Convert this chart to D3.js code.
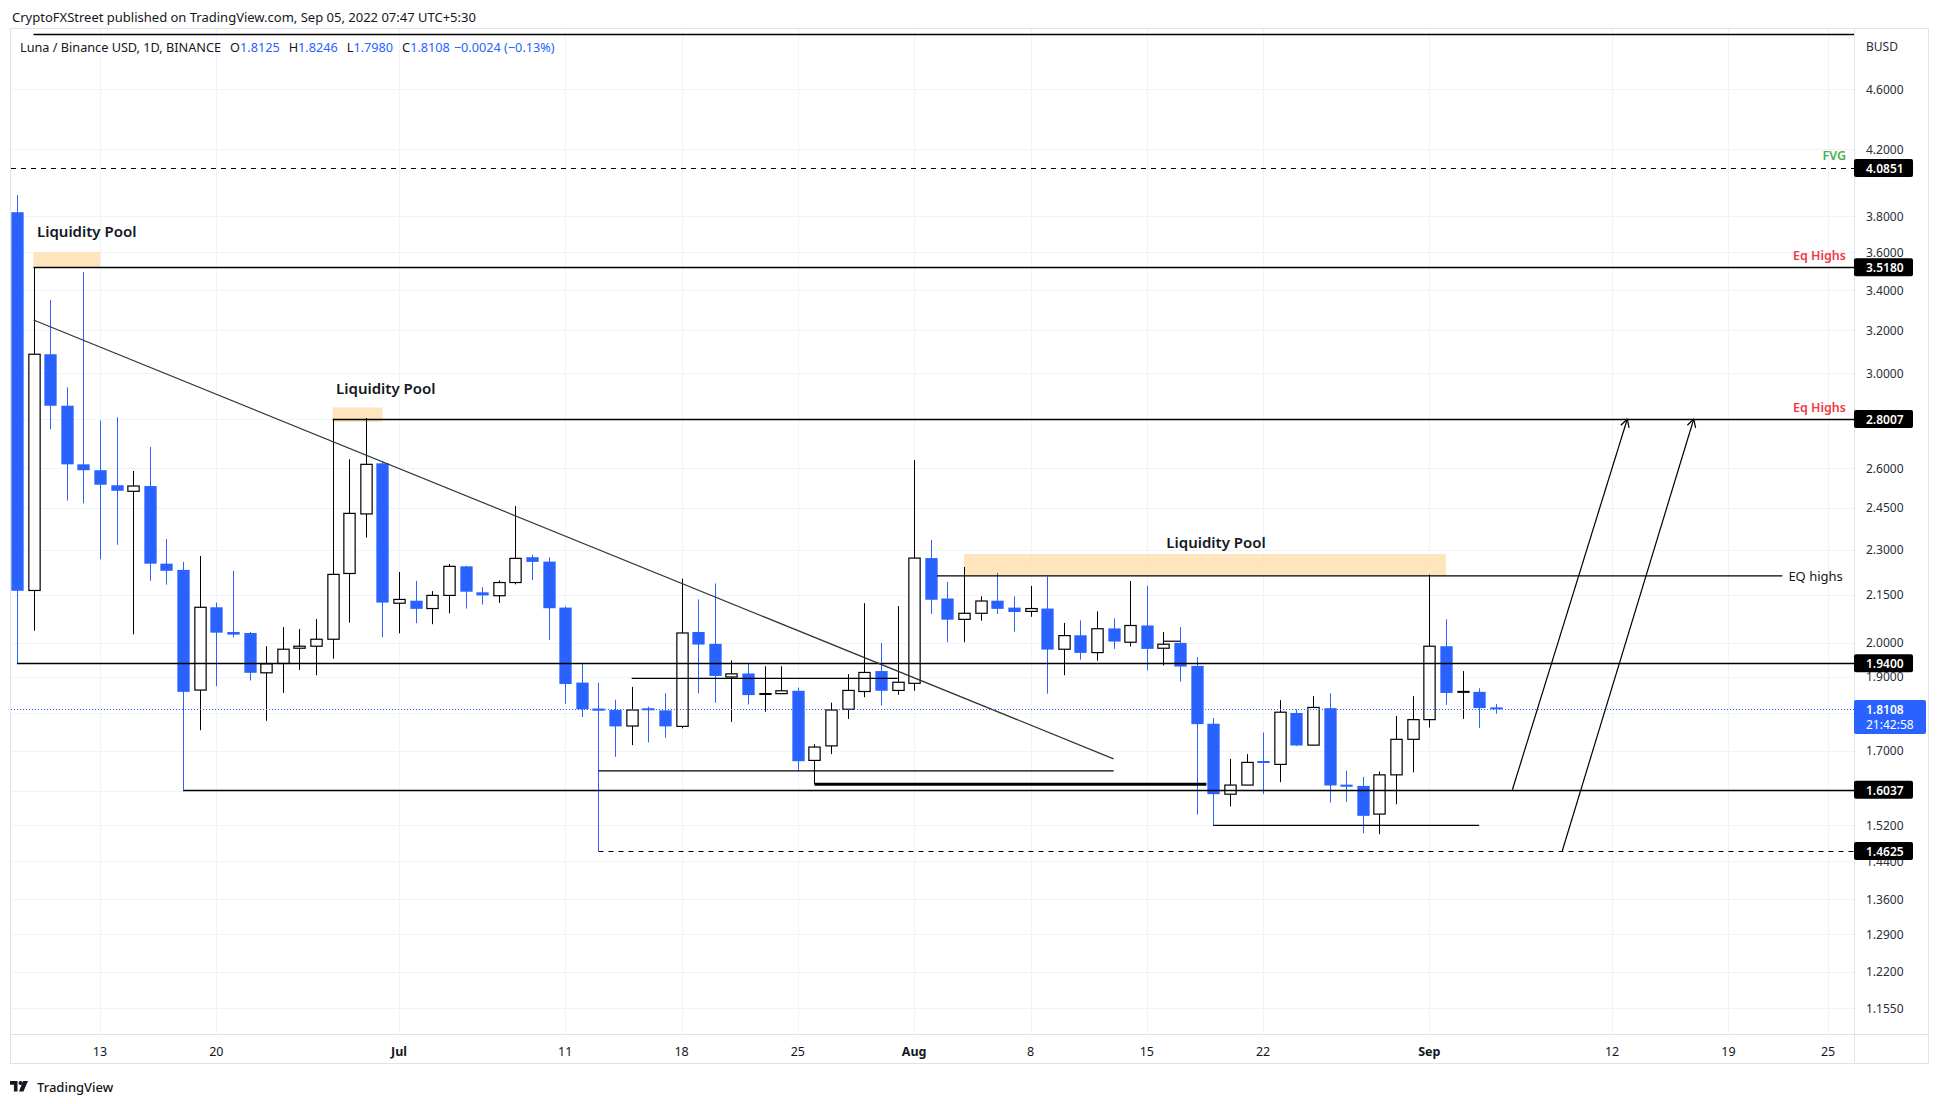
<!DOCTYPE html>
<html>
<head>
<meta charset="utf-8">
<script src="https://cdn.jsdelivr.net/npm/d3@7"></script>
<style>
  body { margin: 0; background: #fff; }
  svg { display: block; font-family: "Noto Sans", "Open Sans", sans-serif; }
</style>
</head>
<body>
<div id="chart"></div>
<script>
// LUNA/BUSD daily candles, one per day from firstDay
const firstDay = '2022-06-08';
const opens = [
  3.822, 2.164, 3.087, 2.857, 2.616, 2.593, 2.535, 2.512, 2.532, 2.253, 2.232, 1.863, 2.110, 2.033, 2.030, 1.912, 1.939, 1.984, 1.990, 2.011, 2.220, 2.428, 2.620,
  2.123, 2.131, 2.106, 2.148, 2.244, 2.158, 2.147, 2.190, 2.275, 2.260, 2.109, 1.884, 1.812, 1.808, 1.765, 1.810, 1.807, 1.764, 2.033, 1.997, 1.900, 1.910, 1.850, 1.853, 1.861, 1.676, 1.713, 1.810, 1.859, 1.917, 1.862,
  1.882, 2.272, 2.138, 2.072, 2.091, 2.131, 2.109, 2.097, 2.106, 1.981, 2.023, 1.971, 2.044, 2.002, 2.053, 1.984, 2.000, 1.932, 1.771, 1.593, 1.615, 1.672, 1.666, 1.800, 1.715, 1.813, 1.616, 1.613, 1.546, 1.640, 1.730,
  1.782, 1.990, 1.856, 1.858, 1.8125
];
const highs = [
  3.922, 3.518, 3.349, 2.937, 3.493, 2.794, 2.808, 2.590, 2.685, 2.338, 2.259, 2.279, 2.125, 2.229, 2.033, 1.990, 2.048, 2.042, 2.073, 2.801, 2.636, 2.805, 2.625,
  2.225, 2.195, 2.162, 2.252, 2.246, 2.175, 2.197, 2.457, 2.284, 2.275, 2.113, 1.937, 1.884, 1.836, 1.872, 1.817, 1.854, 2.203, 2.135, 2.187, 1.948, 1.938, 1.931, 1.931, 1.870, 1.717, 1.828, 1.908, 2.123, 2.000, 2.114,
  2.633, 2.335, 2.192, 2.242, 2.145, 2.222, 2.145, 2.179, 2.210, 2.061, 2.069, 2.097, 2.075, 2.195, 2.179, 2.033, 2.048, 1.958, 1.786, 1.680, 1.692, 1.748, 1.835, 1.810, 1.846, 1.854, 1.650, 1.635, 1.648, 1.792, 1.846,
  2.216, 2.072, 1.917, 1.868, 1.8246
];
const lows = [
  1.939, 2.037, 2.758, 2.477, 2.467, 2.268, 2.318, 2.026, 2.196, 2.183, 1.604, 1.754, 1.874, 2.017, 1.890, 1.779, 1.855, 1.920, 1.905, 1.953, 2.062, 2.343, 2.017,
  2.029, 2.060, 2.057, 2.091, 2.106, 2.119, 2.124, 2.184, 2.198, 2.009, 1.825, 1.789, 1.4625, 1.685, 1.715, 1.722, 1.734, 1.759, 1.854, 1.828, 1.776, 1.823, 1.803, 1.852, 1.650, 1.617, 1.692, 1.784, 1.843, 1.820, 1.850,
  1.861, 2.089, 2.002, 2.002, 2.068, 2.089, 2.034, 2.080, 1.853, 1.905, 1.950, 1.947, 1.982, 1.989, 1.919, 1.933, 1.887, 1.545, 1.520, 1.564, 1.615, 1.593, 1.622, 1.713, 1.714, 1.573, 1.575, 1.502, 1.500, 1.569, 1.646,
  1.761, 1.822, 1.784, 1.760, 1.7980
];
const closes = [
  2.163, 3.087, 2.857, 2.616, 2.593, 2.537, 2.514, 2.532, 2.253, 2.229, 1.858, 2.110, 2.031, 2.025, 1.912, 1.938, 1.981, 1.990, 2.011, 2.217, 2.430, 2.616, 2.125,
  2.135, 2.105, 2.148, 2.244, 2.160, 2.148, 2.190, 2.271, 2.259, 2.107, 1.880, 1.810, 1.806, 1.764, 1.808, 1.805, 1.764, 2.030, 1.995, 1.903, 1.909, 1.849, 1.852, 1.861, 1.674, 1.710, 1.808, 1.862, 1.913, 1.861, 1.885,
  2.272, 2.134, 2.071, 2.091, 2.130, 2.105, 2.095, 2.106, 1.980, 2.022, 1.970, 2.043, 2.004, 2.053, 1.982, 1.996, 1.930, 1.770, 1.593, 1.615, 1.671, 1.668, 1.802, 1.714, 1.815, 1.614, 1.611, 1.542, 1.640, 1.730, 1.782,
  1.990, 1.855, 1.858, 1.8132, 1.8108
];
const countdown = '21:42:58';

// axes: gridlines at every tick, labels only where the reference shows them
const priceTicks = [4.6, 4.2, 3.8, 3.6, 3.4, 3.2, 3.0, 2.8, 2.6, 2.45, 2.3, 2.15, 2.0, 1.9, 1.8, 1.7, 1.6, 1.52, 1.44, 1.36, 1.29, 1.22, 1.155];
const hiddenTickLabels = [2.8, 1.8, 1.6];
const dateTicks = ['2022-06-13', '2022-06-20', '2022-07-01', '2022-07-11', '2022-07-18', '2022-07-25', '2022-08-01',
  '2022-08-08', '2022-08-15', '2022-08-22', '2022-09-01', '2022-09-12', '2022-09-19', '2022-09-25'];
const dateTickLabels = ['13', '20', 'Jul', '11', '18', '25', 'Aug', '8', '15', '22', 'Sep', '12', '19', '25'];
const monthLabels = ['Jul', 'Aug', 'Sep'];

// drawings
const levelPrices = [3.518, 2.8007, 1.94, 1.6037];
const levelStarts = ['2022-06-09', '2022-06-27', '2022-06-08', '2022-06-18'];
const dashedPrices = [4.0851, 1.4625];
const dashedStarts = [null, '2022-07-13'];
const topLine = ['2022-06-09', 5.0];
const trendLine = [['2022-06-09', 3.25], ['2022-08-13', 1.68]];
const shortLines = [
  [['2022-08-02T09:00Z', 2.212], ['2022-09-22T06:00Z', 2.212]],
  [['2022-07-15', 1.896], ['2022-07-31', 1.896]],
  [['2022-07-13', 1.650], ['2022-08-13', 1.650]],
  [['2022-08-19', 1.520], ['2022-09-04', 1.520]],
  [['2022-08-16', 2.005], ['2022-08-17', 2.005]]
];
const boldLine = [['2022-07-26', 1.617], ['2022-08-18T14:00Z', 1.617]];
const arrows = [
  [['2022-09-06', 1.6037], ['2022-09-12T22:00Z', 2.8007]],
  [['2022-09-09', 1.4625], ['2022-09-16T22:00Z', 2.8007]]
];
const poolBoxes = [
  [['2022-06-09', 3.600], ['2022-06-13', 3.518]],
  [['2022-06-27', 2.850], ['2022-06-30', 2.788]],
  [['2022-08-04', 2.286], ['2022-09-02', 2.212]]
];
const poolLabels = [['2022-06-09T05:00Z', 3.715, 'start'], ['2022-06-27T05:00Z', 2.934, 'start'], ['2022-08-19T04:00Z', 2.328, 'middle']];
const redLabels = [3.518, 2.8007];
const fvgPrice = 4.0851;
const eqHighsPrice = 2.212;

const W = 1941, H = 1104;
const pane = { l: 11, r: 1854, t: 29, b: 1034 };
const axisRight = 1929, axisBottom = 1064;
const blue = '#2962ff';
const ink = '#131722';

const parse = d3.isoParse;
const x = d3.scaleUtc()
  .domain([parse('2022-06-13'), parse('2022-09-01')])
  .range([100, 1429.3]);
const y = d3.scaleLog().domain([1.155, 4.6]).range([1008, 89]);
const pt = ([d, p]) => [x(parse(d)), y(p)];

const day0 = parse(firstDay);
const candles = opens.map((o, i) => ({
  date: d3.utcDay.offset(day0, i), o, h: highs[i], l: lows[i], c: closes[i]
}));
const dayW = x(d3.utcDay.offset(day0, 1)) - x(day0);
const bodyW = dayW * 0.74;

const svg = d3.select('#chart').append('svg')
  .attr('width', W).attr('height', H)
  .attr('viewBox', `0 0 ${W} ${H}`);
svg.append('rect').attr('width', W).attr('height', H).attr('fill', '#fff');

svg.append('defs').append('clipPath').attr('id', 'pane')
  .append('rect').attr('x', pane.l).attr('y', pane.t)
  .attr('width', pane.r - pane.l).attr('height', pane.b - pane.t);

// grid
const grid = svg.append('g').attr('stroke', '#f0f3fa').attr('stroke-width', 1);
grid.selectAll('line.h').data(priceTicks).join('line')
  .attr('x1', pane.l).attr('x2', pane.r)
  .attr('y1', d => Math.round(y(d)) + 0.5).attr('y2', d => Math.round(y(d)) + 0.5);
grid.selectAll('line.v').data(dateTicks).join('line')
  .attr('y1', pane.t).attr('y2', pane.b)
  .attr('x1', d => Math.round(x(parse(d))) + 0.5).attr('x2', d => Math.round(x(parse(d))) + 0.5);

// frame
const frame = svg.append('g').attr('fill', 'none').attr('stroke', '#e0e3eb');
frame.append('rect').attr('x', pane.l - 0.5).attr('y', pane.t - 0.5)
  .attr('width', axisRight - pane.l).attr('height', axisBottom - pane.t);
frame.append('line').attr('x1', pane.r + 0.5).attr('x2', pane.r + 0.5).attr('y1', pane.t).attr('y2', axisBottom);
frame.append('line').attr('x1', pane.l).attr('x2', axisRight).attr('y1', pane.b + 0.5).attr('y2', pane.b + 0.5);

const plot = svg.append('g').attr('clip-path', 'url(#pane)');

// liquidity pool boxes
plot.append('g').selectAll('rect').data(poolBoxes).join('rect')
  .attr('x', d => pt(d[0])[0]).attr('y', d => pt(d[0])[1])
  .attr('width', d => pt(d[1])[0] - pt(d[0])[0])
  .attr('height', d => pt(d[1])[1] - pt(d[0])[1])
  .attr('fill', '#ffe0b2').attr('opacity', 0.85);

// candles
const cg = plot.append('g');
candles.forEach(d => {
  const bull = d.c >= d.o;
  const col = bull ? '#000' : blue;
  const cx = Math.round(x(d.date)) + 0.5;
  cg.append('line').attr('x1', cx).attr('x2', cx)
    .attr('y1', y(d.h)).attr('y2', y(d.l)).attr('stroke', col);
  const top = y(Math.max(d.o, d.c)), bot = y(Math.min(d.o, d.c));
  const hgt = bot - top;
  if (bull && hgt > 2) {
    cg.append('rect').attr('x', cx - bodyW / 2 + 0.5).attr('width', bodyW - 1)
      .attr('y', top).attr('height', hgt)
      .attr('fill', '#fff').attr('stroke', '#000').attr('stroke-width', 1.2);
  } else {
    cg.append('rect').attr('x', cx - bodyW / 2).attr('width', bodyW)
      .attr('y', top - (hgt < 2 ? 1 : 0)).attr('height', Math.max(hgt, 2))
      .attr('fill', col);
  }
});

// drawings
const dg = plot.append('g').attr('stroke', '#000').attr('fill', 'none');
levelPrices.forEach((p, i) => {
  const yy = Math.round(y(p)) + 0.5;
  dg.append('line').attr('x1', x(parse(levelStarts[i]))).attr('x2', pane.r)
    .attr('y1', yy).attr('y2', yy).attr('stroke-width', 1.3);
});
dashedPrices.forEach((p, i) => {
  const yy = Math.round(y(p)) + 0.5;
  dg.append('line').attr('x1', dashedStarts[i] ? x(parse(dashedStarts[i])) : pane.l).attr('x2', pane.r)
    .attr('y1', yy).attr('y2', yy).attr('stroke-dasharray', '5,5').attr('stroke-width', 1.2);
});
{
  const yy = Math.round(y(topLine[1])) + 0.5;
  dg.append('line').attr('x1', x(parse(topLine[0]))).attr('x2', pane.r).attr('y1', yy).attr('y2', yy).attr('stroke-width', 1.3);
}
const line2 = (a, b) => dg.append('line')
  .attr('x1', pt(a)[0]).attr('y1', pt(a)[1]).attr('x2', pt(b)[0]).attr('y2', pt(b)[1]);
line2(trendLine[0], trendLine[1]).attr('stroke', '#333').attr('stroke-width', 1.2);
shortLines.forEach(s => line2(s[0], s[1]).attr('stroke-width', 1.2));
line2(boldLine[0], boldLine[1]).attr('stroke-width', 3.2);
arrows.forEach(([a, b]) => {
  line2(a, b).attr('stroke-width', 1.2);
  const [x1, y1] = pt(a), [x2, y2] = pt(b);
  const ang = Math.atan2(y2 - y1, x2 - x1);
  [-0.5, 0.5].forEach(off => {
    dg.append('line').attr('x1', x2).attr('y1', y2)
      .attr('x2', x2 - 9 * Math.cos(ang + off)).attr('y2', y2 - 9 * Math.sin(ang + off))
      .attr('stroke-width', 1.2);
  });
});

// current price dotted line
const lastC = closes[closes.length - 1];
plot.append('line').attr('x1', pane.l).attr('x2', pane.r)
  .attr('y1', Math.round(y(lastC)) + 0.5).attr('y2', Math.round(y(lastC)) + 0.5)
  .attr('stroke', blue).attr('stroke-dasharray', '1,2');

// annotation text
const tg = svg.append('g');
poolLabels.forEach(([d, p, anchor]) => {
  tg.append('text').attr('x', x(parse(d))).attr('y', y(p))
    .attr('text-anchor', anchor).attr('dominant-baseline', 'central')
    .attr('font-size', 15).attr('font-weight', 600).attr('fill', ink)
    .text('Liquidity Pool');
});
tg.append('text').attr('x', 1846).attr('y', y(fvgPrice) - 12)
  .attr('text-anchor', 'end').attr('dominant-baseline', 'central')
  .attr('font-size', 12.5).attr('font-weight', 600).attr('fill', '#4caf50').text('FVG');
redLabels.forEach(p => {
  tg.append('text').attr('x', 1846).attr('y', y(p) - 11.5)
    .attr('text-anchor', 'end').attr('dominant-baseline', 'central')
    .attr('font-size', 12.5).attr('font-weight', 600).attr('fill', '#f23645').text('Eq Highs');
});
tg.append('text').attr('x', pt(shortLines[0][1])[0] + 6).attr('y', y(eqHighsPrice))
  .attr('dominant-baseline', 'central').attr('font-size', 13).attr('fill', ink).text('EQ highs');

// header + legend
svg.append('text').attr('x', 12).attr('y', 17).attr('dominant-baseline', 'central')
  .attr('font-size', 13).attr('fill', ink)
  .text('CryptoFXStreet published on TradingView.com, Sep 05, 2022 07:47 UTC+5:30');
const last = candles[candles.length - 1];
const prevC = closes[closes.length - 2];
const f4 = d3.format('.4f');
const chg = last.c - prevC;
const leg = svg.append('text').attr('x', 20).attr('y', 47).attr('dominant-baseline', 'central')
  .attr('font-size', 12.7).attr('fill', ink);
leg.append('tspan').text('Luna / Binance USD, 1D, BINANCE');
[['O', last.o], ['H', last.h], ['L', last.l], ['C', last.c]].forEach(([k, v]) => {
  leg.append('tspan').attr('dx', 9).text(k);
  leg.append('tspan').attr('fill', blue).text(f4(v));
});
leg.append('tspan').attr('dx', 4).attr('fill', blue)
  .text(`${f4(chg).replace('-', '\u2212')} (${d3.format('.2f')(chg / prevC * 100).replace('-', '\u2212')}%)`);

// right axis
const ax = svg.append('g').attr('font-size', 12).attr('fill', '#2a2e39');
ax.append('text').attr('x', 1866).attr('y', 46).attr('dominant-baseline', 'central').text('BUSD');
ax.selectAll('text.t').data(priceTicks.filter(t => !hiddenTickLabels.includes(t))).join('text')
  .attr('x', 1866).attr('y', d => y(d)).attr('dominant-baseline', 'central')
  .text(d => f4(d));

const boxPrices = [fvgPrice, ...levelPrices, dashedPrices[1]];
const bx = svg.append('g');
boxPrices.forEach(p => {
  bx.append('rect').attr('x', pane.r).attr('y', y(p) - 9).attr('width', 59).attr('height', 18)
    .attr('rx', 2).attr('fill', '#000');
  bx.append('text').attr('x', 1866).attr('y', y(p) + 0.5).attr('dominant-baseline', 'central')
    .attr('font-size', 12).attr('font-weight', 600).attr('fill', '#fff').text(f4(p));
});
bx.append('rect').attr('x', pane.r).attr('y', y(lastC) - 9).attr('width', 72).attr('height', 34)
  .attr('rx', 2).attr('fill', blue);
bx.append('text').attr('x', 1866).attr('y', y(lastC) + 1).attr('dominant-baseline', 'central')
  .attr('font-size', 12).attr('font-weight', 600).attr('fill', '#fff').text(f4(lastC));
bx.append('text').attr('x', 1866).attr('y', y(lastC) + 16).attr('dominant-baseline', 'central')
  .attr('font-size', 12).attr('fill', '#fff').text(countdown);

// bottom axis
const bxis = svg.append('g').attr('font-size', 12.5).attr('fill', ink).attr('text-anchor', 'middle');
bxis.selectAll('text').data(dateTicks).join('text')
  .attr('x', d => x(parse(d))).attr('y', 1051).attr('dominant-baseline', 'central')
  .attr('font-weight', (d, i) => monthLabels.includes(dateTickLabels[i]) ? 700 : 400)
  .text((d, i) => dateTickLabels[i]);

// footer logo
const logo = svg.append('g').attr('fill', ink);
logo.append('path').attr('d', 'M10 1081h7.5v10.5h-3.6v-6.7H10z');
logo.append('circle').attr('cx', 20.5).attr('cy', 1083).attr('r', 2);
logo.append('path').attr('d', 'M23 1081h5l-4.6 10.5h-4.4z');
svg.append('text').attr('x', 37).attr('y', 1086.5).attr('dominant-baseline', 'central')
  .attr('font-size', 13).attr('font-weight', 500).attr('fill', ink).text('TradingView');
</script>
</body>
</html>
